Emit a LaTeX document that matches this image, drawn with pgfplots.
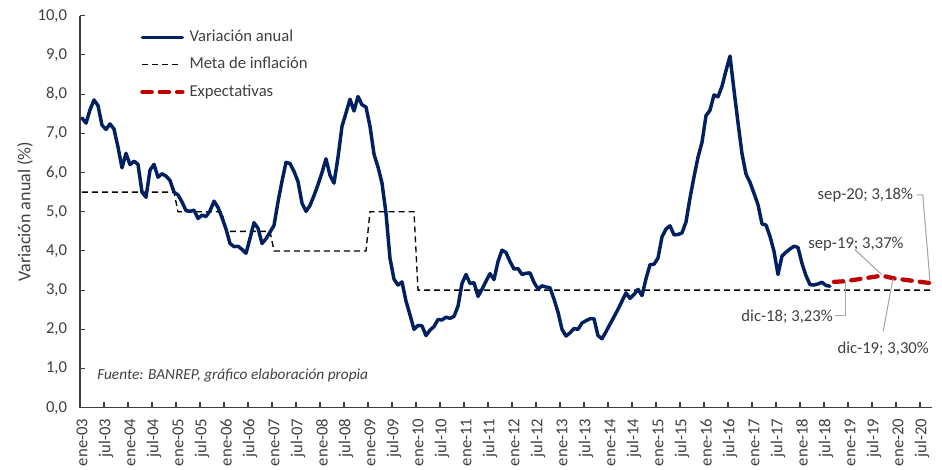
\documentclass[border=0pt]{standalone}
\usepackage{fontspec}
\setmainfont{Carlito}
\usepackage{pgfplots}
\pgfplotsset{compat=1.18}
\definecolor{navy}{RGB}{0,32,96}
\definecolor{darkred}{RGB}{192,0,0}
\definecolor{txt}{RGB}{64,64,64}
\definecolor{lead}{RGB}{166,166,166}
\newcommand{\fs}{\fontsize{12.5}{15}\selectfont}
\begin{document}
\begin{tikzpicture}[
  blueline/.style={navy, line width=2.6pt, line join=round, line cap=round},
  metaline/.style={black, line width=1pt, dash pattern=on 4.5pt off 3pt},
  expline/.style={darkred, line width=3.2pt, line cap=round, dash pattern=on 7pt off 6pt},
  leader/.style={lead, line width=0.8pt},
]
\begin{axis}[
  at={(0,0)}, anchor=south west,
  scale only axis, width=639pt, height=294pt,
  xmin=-0.5, xmax=212.5, ymin=0, ymax=10,
  clip=false,
  axis x line*=bottom, axis y line*=left,
  axis line style={black!75, line width=0.9pt},
  tick style={black!75, line width=0.8pt},
  major tick length=0pt,
  minor tick length=4pt,
  tick align=inside,
  xtick={0,6,...,210},
  xticklabels={ene-03,jul-03,ene-04,jul-04,ene-05,jul-05,ene-06,jul-06,ene-07,jul-07,ene-08,jul-08,ene-09,jul-09,ene-10,jul-10,ene-11,jul-11,ene-12,jul-12,ene-13,jul-13,ene-14,jul-14,ene-15,jul-15,ene-16,jul-16,ene-17,jul-17,ene-18,jul-18,ene-19,jul-19,ene-20,jul-20},
  minor xtick={-0.5,5.5,...,209.5},
  minor ytick={0,1,...,10},
  xticklabel style={rotate=90, anchor=east, inner xsep=8pt, font=\fs, text=txt},
  ytick={0,1,...,10},
  yticklabel style={anchor=east, inner xsep=0pt, xshift=-9.5pt, font=\fs, text=txt},
  /pgf/number format/use comma,
  /pgf/number format/fixed,
  /pgf/number format/fixed zerofill,
  /pgf/number format/precision=1,
  /pgf/number format/assume math mode=true,
  ylabel={Variación anual (\%)},
  ylabel style={at={(axis description cs:-0.0646,0.5)}, anchor=center, font=\fontsize{13.5}{16}\selectfont, text=txt},
  legend image code/.code={\draw[#1] (0pt,0pt) -- (30pt,0pt);},
  legend cell align=left,
  legend style={at={(axis description cs:0.0704,0.966)}, anchor=north west,
    draw=none, fill=none, inner sep=0pt, row sep=8.6pt,
    nodes={inner sep=0pt, font=\fs, text=txt, text height=9pt, text depth=3pt},
    /tikz/every odd column/.append style={column sep=3.75pt}},
]
\addlegendimage{blueline}
\addlegendentry{Variación anual}
\addlegendimage{metaline}
\addlegendentry{Meta de inflación}
\addlegendimage{expline}
\addlegendentry{Expectativas}

\addplot[metaline, forget plot] coordinates {
(0,5.5) (23,5.5) (24,5.0) (35,5.0) (36,4.5) (47,4.5) (48,4.0) (71,4.0)
(72,5.0) (83,5.0) (84,3.0) (212,3.0)};

\addplot[blueline, forget plot] table[x=x, y=y] {
x y
0 7.39
1 7.26
2 7.60
3 7.85
4 7.71
5 7.21
6 7.10
7 7.24
8 7.11
9 6.65
10 6.12
11 6.49
12 6.20
13 6.29
14 6.21
15 5.50
16 5.37
17 6.06
18 6.21
19 5.88
20 5.97
21 5.91
22 5.80
23 5.50
24 5.43
25 5.25
26 5.03
27 5.01
28 5.04
29 4.83
30 4.91
31 4.88
32 5.02
33 5.27
34 5.11
35 4.85
36 4.56
37 4.19
38 4.11
39 4.12
40 4.04
41 3.94
42 4.32
43 4.72
44 4.58
45 4.19
46 4.31
47 4.48
48 4.65
49 5.25
50 5.78
51 6.26
52 6.23
53 6.03
54 5.77
55 5.22
56 5.01
57 5.16
58 5.41
59 5.69
60 6.00
61 6.35
62 5.93
63 5.73
64 6.39
65 7.18
66 7.52
67 7.87
68 7.57
69 7.94
70 7.73
71 7.67
72 7.18
73 6.47
74 6.14
75 5.73
76 4.96
77 3.81
78 3.28
79 3.13
80 3.21
81 2.72
82 2.37
83 2.00
84 2.10
85 2.09
86 1.84
87 1.98
88 2.07
89 2.25
90 2.24
91 2.31
92 2.28
93 2.33
94 2.59
95 3.17
96 3.40
97 3.17
98 3.19
99 2.84
100 3.02
101 3.23
102 3.42
103 3.27
104 3.73
105 4.02
106 3.96
107 3.73
108 3.54
109 3.55
110 3.40
111 3.43
112 3.44
113 3.20
114 3.03
115 3.11
116 3.08
117 3.06
118 2.77
119 2.44
120 2.00
121 1.83
122 1.91
123 2.02
124 2.00
125 2.16
126 2.22
127 2.27
128 2.27
129 1.84
130 1.76
131 1.94
132 2.13
133 2.32
134 2.51
135 2.72
136 2.93
137 2.79
138 2.89
139 3.02
140 2.86
141 3.29
142 3.65
143 3.66
144 3.82
145 4.36
146 4.56
147 4.64
148 4.41
149 4.42
150 4.46
151 4.74
152 5.35
153 5.89
154 6.39
155 6.77
156 7.45
157 7.59
158 7.98
159 7.93
160 8.20
161 8.60
162 8.97
163 8.10
164 7.27
165 6.48
166 5.96
167 5.75
168 5.47
169 5.18
170 4.69
171 4.66
172 4.37
173 3.99
174 3.40
175 3.87
176 3.97
177 4.05
178 4.12
179 4.09
180 3.68
181 3.37
182 3.14
183 3.13
184 3.16
185 3.20
186 3.12
187 3.10
};

\addplot[expline, forget plot] coordinates {
(188,3.21) (191,3.23) (200,3.37) (203,3.30) (212,3.18)};

% annotations
\node[anchor=west, inner sep=0pt, font=\fontsize{11.5}{14}\selectfont\itshape, text=txt]
  at (axis cs:3.75,0.82) {Fuente: BANREP, gráfico elaboración propia};

\node[anchor=east, inner sep=0pt, font=\fs, text=txt] at (axis cs:207.8,5.43) {sep-20; 3,18\%};
\draw[leader] (axis cs:208.7,5.43) -- (axis cs:210.2,5.43) -- (axis cs:212,3.22);

\node[anchor=center, inner sep=0pt, font=\fs, text=txt] at (axis cs:193.5,4.18) {sep-19; 3,37\%};
\draw[leader] (axis cs:193.25,4.03) -- (axis cs:199.9,3.40);

\node[anchor=east, inner sep=0pt, font=\fs, text=txt] at (axis cs:187.75,2.33) {dic-18; 3,23\%};
\draw[leader] (axis cs:188.25,2.35) -- (axis cs:190.8,2.35) -- (axis cs:190.8,3.22);

\node[anchor=center, inner sep=0pt, font=\fs, text=txt] at (axis cs:200.3,1.505) {dic-19; 3,30\%};
\draw[leader] (axis cs:200.3,1.95) -- (axis cs:202.7,3.28);
\end{axis}
\pgfresetboundingbox
\path (-60pt,-46.1pt) rectangle (646.5pt,305.8pt);
\end{tikzpicture}
\end{document}
